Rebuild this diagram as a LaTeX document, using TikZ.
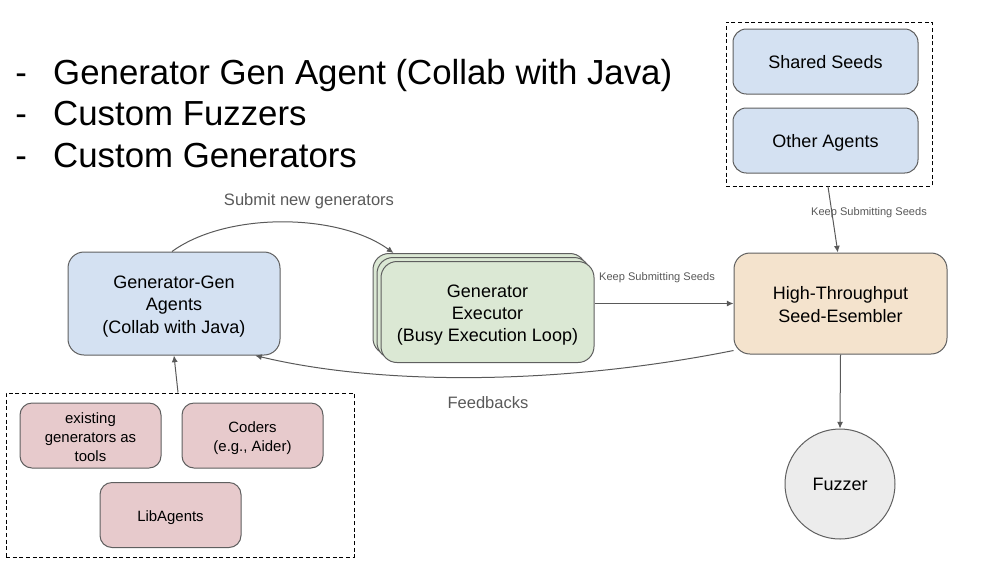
\documentclass[tikz,border=0pt]{standalone}
\usepackage{fontspec}
\setmainfont{Liberation Sans}
\usetikzlibrary{arrows.meta,calc}
\definecolor{edge}{HTML}{5F5F5F}
\definecolor{wire}{HTML}{595959}
\definecolor{lab}{HTML}{595959}
\definecolor{bluefill}{HTML}{D4E1F2}
\definecolor{greenfill}{HTML}{DBE8D4}
\definecolor{orangefill}{HTML}{F4E3CD}
\definecolor{pinkfill}{HTML}{E7CACC}
\definecolor{grayfill}{HTML}{ECECEC}
\newcommand{\lowtext}[1]{\raisebox{-2.25pt}[\height][\depth]{\begin{tabular}{@{}c@{}}#1\end{tabular}}}
\begin{document}
\begin{tikzpicture}[x=0.75pt,y=-0.75pt,
  box/.style={draw=edge, line width=0.75pt, rounded corners=12pt, align=center,
    inner sep=0pt, font=\fontsize{13.5pt}{16.6pt}\selectfont},
  smallbox/.style={box, rounded corners=9pt, minimum width=105.75pt, minimum height=48.75pt,
    fill=pinkfill, font=\fontsize{11.2pt}{14.2pt}\selectfont},
  bigbox/.style={box, minimum width=159.75pt, minimum height=75.75pt},
  seedbox/.style={box, rounded corners=10pt, minimum width=138.75pt, minimum height=48.75pt, fill=bluefill},
  grp/.style={draw=black, line width=0.75pt, dash pattern=on 3pt off 2pt, inner sep=0pt},
  arr/.style={draw=wire, line width=0.75pt, -{Latex[length=5pt,width=4.5pt]}},
  smalllab/.style={text=lab, font=\fontsize{8.3pt}{10pt}\selectfont, inner sep=0pt},
  biglab/.style={text=lab, font=\fontsize{12.4pt}{15pt}\selectfont, inner sep=0pt},
  bullet/.style={anchor=base west, inner sep=0pt, font=\fontsize{26.1pt}{30pt}\selectfont}
]
\useasboundingbox (0,0) rectangle (1000,562);

% bullet list
\node[bullet] (b1) at (15,84) {\makebox[28.5pt][l]{-}Generator Gen Agent (Collab with Java)};
\node[bullet] (b2) at (15,125) {\makebox[28.5pt][l]{-}Custom Fuzzers};
\node[bullet] (b3) at (15,167) {\makebox[28.5pt][l]{-}Custom Generators};

% main nodes
\node[bigbox, fill=bluefill, minimum width=159pt, minimum height=77.25pt] (gen) at (174,303.5)
  {\lowtext{Generator-Gen\\Agents\\(Collab with Java)}};

\node[bigbox, fill=greenfill] (back) at (479.5,304) {};
\node[bigbox, fill=greenfill] (mid) at (483.5,308) {};
\node[bigbox, fill=greenfill] (exec) at (487.5,312) {\lowtext{Generator\\Executor\\(Busy Execution Loop)}};

\node[bigbox, fill=orangefill] (seed) at (840.5,303.5) {\lowtext{High-Throughput\\Seed-Esembler}};

\node[draw=edge, line width=0.75pt, circle, fill=grayfill, minimum size=82.5pt, inner sep=0pt,
  font=\fontsize{13.5pt}{16.2pt}\selectfont] (fuzz) at (840,484) {Fuzzer};

% top-right group
\node[grp, minimum width=154.5pt, minimum height=123pt] (topgrp) at (829,104) {};
\node[seedbox] (shared) at (825.5,61.5) {\lowtext{Shared Seeds}};
\node[seedbox] (other) at (825.5,140.5) {\lowtext{Other Agents}};

% bottom-left group
\node[grp, minimum width=261pt, minimum height=123pt] (botgrp) at (180,475) {};
\node[smallbox] (exist) at (90.5,435.5) {\lowtext{existing\\generators as\\tools}};
\node[smallbox] (coders) at (252.5,435.5) {\lowtext{Coders\\(e.g., Aider)}};
\node[smallbox] (lib) at (170.5,515) {\lowtext{LibAgents}};

% connectors
\draw[arr] ([xshift=-1.5pt]gen.north) .. controls +(55,-40) and +(-55,-40) .. ([xshift=15.75pt]back.north west);
\node[biglab] (submitlab) at (309,201) {Submit new generators};

\draw[arr] (exec.east |- seed.west) -- (seed.west);
\node[smalllab] (keep1) at (657,278) {Keep Submitting Seeds};

\draw[arr] ([yshift=3pt]seed.south west) .. controls +(-175,35) and +(125,30) .. ([xshift=-19pt]gen.south east);
\node[biglab] (feedlab) at (488,403) {Feedbacks};

\draw[arr] ([xshift=-0.75pt]topgrp.south) -- ([xshift=-2pt]seed.north);
\node[smalllab] (keep2) at (869,213) {Keep Submitting Seeds};

\draw[arr] (seed.south) -- (fuzz.north);
\draw[arr] ([xshift=-1.5pt]botgrp.north) -- (gen.south);
\end{tikzpicture}
\end{document}
